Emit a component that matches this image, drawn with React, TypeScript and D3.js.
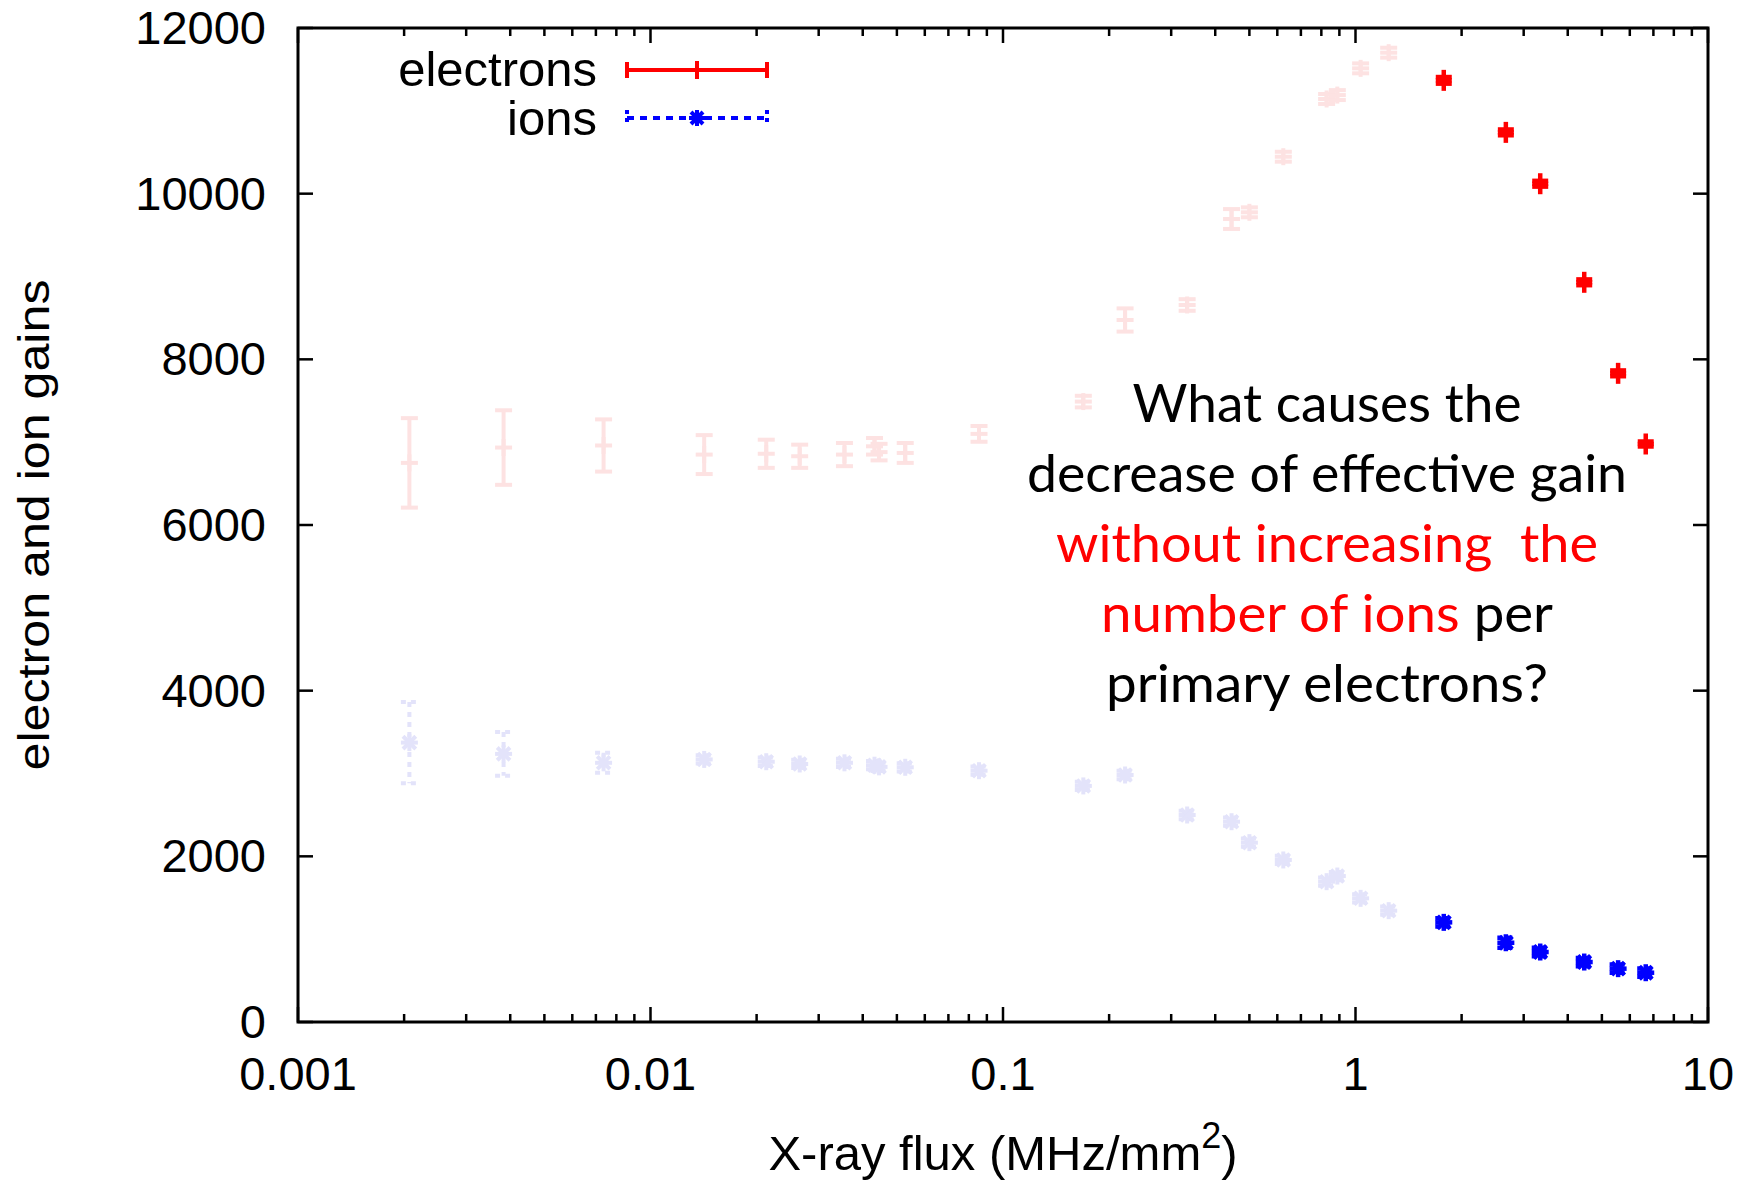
import React from 'react';
import * as d3 from 'd3';

// ---- data ----
const flux = [0.00207, 0.00383, 0.00736, 0.0142, 0.0213, 0.0265, 0.0355, 0.0432, 0.0445, 0.0528, 0.0855, 0.169, 0.222, 0.333, 0.445, 0.5, 0.624, 0.828, 0.888, 1.034, 1.242, 1.78, 2.67, 3.342, 4.455, 5.559, 6.658];
const electronGain = [6750, 6935, 6960, 6850, 6860, 6830, 6850, 6950, 6880, 6870, 7100, 7490, 8475, 8656, 9694, 9775, 10446, 11143, 11190, 11513, 11702, 11368, 10740, 10120, 8930, 7831, 6978];
const electronErr = [540, 450, 315, 235, 170, 140, 140, 100, 100, 120, 95, 70, 140, 70, 120, 60, 60, 60, 60, 60, 60, 40, 35, 35, 35, 35, 30];
const ionGain = [3373, 3237, 3129, 3170, 3142, 3115, 3129, 3100, 3080, 3075, 3034, 2850, 2982, 2499, 2418, 2165, 1956, 1694, 1762, 1493, 1344, 1203, 957, 845, 724, 644, 595];
const ionErr = [490, 265, 120, 50, 50, 50, 50, 50, 50, 50, 50, 50, 50, 50, 50, 50, 50, 50, 50, 50, 50, 50, 60, 50, 50, 50, 50];
const highlightFrom = 1.5; // points at higher flux are drawn in full colour

const yTicks = [0, 2000, 4000, 6000, 8000, 10000, 12000];
const xTickValues = [0.001, 0.01, 0.1, 1, 10];
const xTickLabels = ['0.001', '0.01', '0.1', '1', '10'];
const seriesNames = ['electrons', 'ions'];

const annotationLines: { text: string; color: string }[][] = [
  [{ text: 'What causes the', color: '#000' }],
  [{ text: 'decrease of effective gain', color: '#000' }],
  [{ text: 'without increasing  the', color: '#ff0000' }],
  [{ text: 'number of ions', color: '#ff0000' }, { text: ' per', color: '#000' }],
  [{ text: 'primary electrons?', color: '#000' }],
];
const annotationWidths = [389, 600, 542, 452, 442];

const RED = '#ff0000';
const BLUE = '#0000ff';
const PINK = '#fde2e2';
const LAV = '#e3e3fa';

function ElectronMark({ cx, y0, y1, yc, color, sw = 4, hw = 8.5, vw = 8.5 }: any) {
  return (
    <g stroke={color} strokeWidth={sw} fill="none">
      <line x1={cx} x2={cx} y1={y0} y2={y1} />
      <line x1={cx - hw} x2={cx + hw} y1={y0} y2={y0} />
      <line x1={cx - hw} x2={cx + hw} y1={y1} y2={y1} />
      <line x1={cx - hw} x2={cx + hw} y1={yc} y2={yc} />
      <line x1={cx} x2={cx} y1={yc - vw} y2={yc + vw} />
    </g>
  );
}

function IonMark({ cx, y0, y1, yc, color, sw = 4, hw = 8.5 }: any) {
  const d = hw * 0.75;
  return (
    <g stroke={color} strokeWidth={sw} fill="none">
      <line x1={cx} x2={cx} y1={y0} y2={y1} strokeDasharray="5 5" />
      <line x1={cx - hw} x2={cx + hw} y1={y0} y2={y0} strokeDasharray="5 5" />
      <line x1={cx - hw} x2={cx + hw} y1={y1} y2={y1} strokeDasharray="5 5" />
      <line x1={cx - hw} x2={cx + hw} y1={yc} y2={yc} />
      <line x1={cx} x2={cx} y1={yc - hw} y2={yc + hw} />
      <line x1={cx - d} x2={cx + d} y1={yc - d} y2={yc + d} />
      <line x1={cx - d} x2={cx + d} y1={yc + d} y2={yc - d} />
    </g>
  );
}

export default function App() {
  const W = 1759, H = 1182;
  const L = 298, R = 1708, T = 28, B = 1022;
  const x = d3.scaleLog().domain([0.001, 10]).range([L, R]);
  const y = d3.scaleLinear().domain([0, 12000]).range([B, T]);

  const minorTicks: number[] = [];
  for (let e = -3; e < 1; e++) {
    for (let m = 2; m <= 9; m++) minorTicks.push(m * Math.pow(10, e));
  }

  const idx = flux.map((_, i) => i);
  const faded = idx.filter((i) => flux[i] < highlightFrom);
  const bright = idx.filter((i) => flux[i] >= highlightFrom);

  const font = "'Liberation Sans', Arial, Helvetica, sans-serif";

  return (
    <svg width={W} height={H} style={{ position: 'absolute', left: 0, top: 0, background: '#fff' }}>
      <rect x={0} y={0} width={W} height={H} fill="#fff" />

      {/* faded points */}
      {faded.map((i) => (
        <ElectronMark key={'ef' + i} cx={x(flux[i])} y0={y(electronGain[i] + electronErr[i])} y1={y(electronGain[i] - electronErr[i])} yc={y(electronGain[i])} color={PINK} />
      ))}
      {faded.map((i) => (
        <IonMark key={'if' + i} cx={x(flux[i])} y0={y(ionGain[i] + ionErr[i])} y1={y(ionGain[i] - ionErr[i])} yc={y(ionGain[i])} color={LAV} />
      ))}
      {/* highlighted points */}
      {bright.map((i) => (
        <ElectronMark key={'eb' + i} cx={x(flux[i])} y0={y(electronGain[i] + electronErr[i])} y1={y(electronGain[i] - electronErr[i])} yc={y(electronGain[i])} color={RED} sw={4.5} hw={8} vw={10.5} />
      ))}
      {bright.map((i) => (
        <IonMark key={'ib' + i} cx={x(flux[i])} y0={y(ionGain[i] + ionErr[i])} y1={y(ionGain[i] - ionErr[i])} yc={y(ionGain[i])} color={BLUE} sw={4.5} />
      ))}

      {/* ticks */}
      <g stroke="#000" strokeWidth={2.5}>
        {yTicks.map((t) => (
          <g key={'yt' + t}>
            <line x1={L} x2={L + 15} y1={y(t)} y2={y(t)} />
            <line x1={R} x2={R - 15} y1={y(t)} y2={y(t)} />
          </g>
        ))}
        {xTickValues.map((t) => (
          <g key={'xt' + t}>
            <line x1={x(t)} x2={x(t)} y1={B} y2={B - 15} />
            <line x1={x(t)} x2={x(t)} y1={T} y2={T + 15} />
          </g>
        ))}
        {minorTicks.map((t) => (
          <g key={'xm' + t}>
            <line x1={x(t)} x2={x(t)} y1={B} y2={B - 8} />
            <line x1={x(t)} x2={x(t)} y1={T} y2={T + 8} />
          </g>
        ))}
      </g>

      {/* frame */}
      <rect x={L} y={T} width={R - L} height={B - T} fill="none" stroke="#000" strokeWidth={3} />

      {/* tick labels */}
      <g fontFamily={font} fontSize={47} fill="#000">
        {yTicks.map((t) => (
          <text key={'yl' + t} x={266} y={y(t) + 16} textAnchor="end">{t}</text>
        ))}
      </g>
      <g fontFamily={font} fontSize={47} fill="#000">
        {xTickValues.map((t, i) => (
          <text key={'xl' + t} x={x(t)} y={1090} textAnchor="middle">{xTickLabels[i]}</text>
        ))}
      </g>

      {/* axis titles */}
      <text transform={`translate(49, ${(T + B) / 2}) rotate(-90)`} fontFamily={font} fontSize={44} textAnchor="middle" textLength={491} lengthAdjust="spacingAndGlyphs">electron and ion gains</text>
      <text x={(L + R) / 2} y={1170} fontFamily={font} fontSize={49} textAnchor="middle">
        X-ray flux (MHz/mm<tspan fontSize={36} dy={-22}>2</tspan><tspan dy={22}>)</tspan>
      </text>

      {/* legend */}
      <g fontFamily={font} fontSize={49}>
        <text x={597} y={86} textAnchor="end">{seriesNames[0]}</text>
        <text x={597} y={135} textAnchor="end">{seriesNames[1]}</text>
      </g>
      <g stroke={RED} strokeWidth={4}>
        <line x1={627} x2={767} y1={70} y2={70} />
        <line x1={627} x2={627} y1={62} y2={78} />
        <line x1={767} x2={767} y1={62} y2={78} />
        <line x1={697} x2={697} y1={61} y2={79} />
      </g>
      <g stroke={BLUE} strokeWidth={4}>
        <line x1={627} x2={767} y1={118} y2={118} strokeDasharray="7 6" />
        <line x1={627} x2={627} y1={110} y2={126} strokeDasharray="4 4" />
        <line x1={767} x2={767} y1={110} y2={126} strokeDasharray="4 4" />
        <line x1={689} x2={705} y1={118} y2={118} />
        <line x1={697} x2={697} y1={110} y2={126} />
        <line x1={691} x2={703} y1={112} y2={124} />
        <line x1={691} x2={703} y1={124} y2={112} />
      </g>

      {/* annotation */}
      <g fontFamily="Lato, 'Open Sans', sans-serif" fontSize={52} textAnchor="middle">
        {annotationLines.map((parts, li) => (
          <text key={'an' + li} x={1327} y={422 + li * 70} textLength={annotationWidths[li]} lengthAdjust="spacingAndGlyphs" style={{ whiteSpace: 'pre' }}>
            {parts.map((p, pi) => (
              <tspan key={pi} fill={p.color}>{p.text}</tspan>
            ))}
          </text>
        ))}
      </g>
    </svg>
  );
}
